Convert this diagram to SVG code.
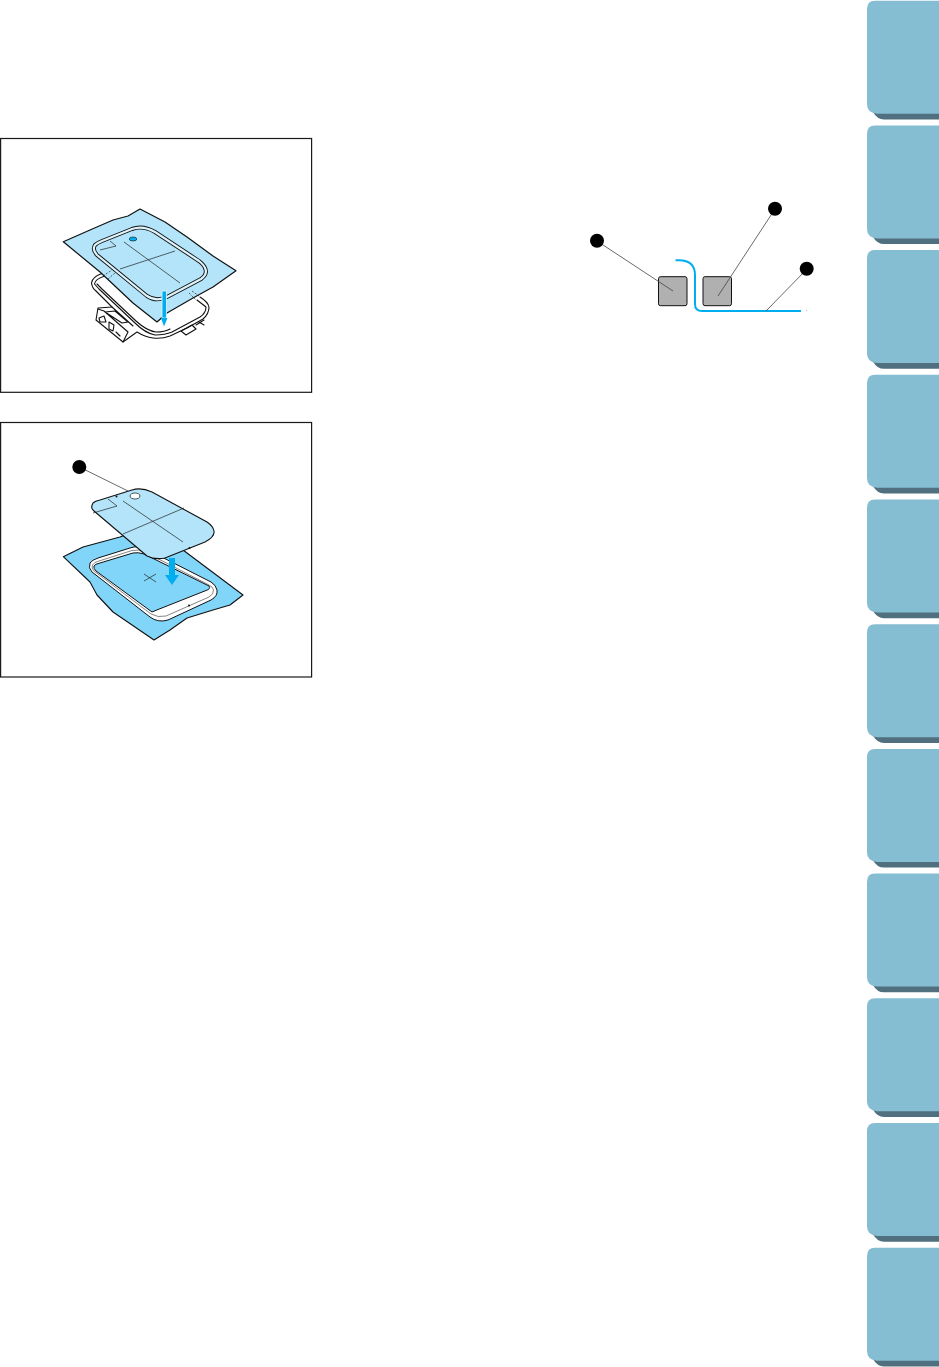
<svg xmlns="http://www.w3.org/2000/svg" xmlns:xlink="http://www.w3.org/1999/xlink" width="939" height="1367" viewBox="0 0 939 1367">
<style>
.frame{fill:#fff;stroke:#1a1a1a;stroke-width:1.2}
.ink{fill:none;stroke:#111;stroke-width:1.100;stroke-linejoin:round;stroke-linecap:round}
.thin{fill:none;stroke:#222;stroke-width:.7}
.leader{fill:none;stroke:#444;stroke-width:.8}
.dot{fill:#000}
.sq{fill:#b0b0b0;stroke:#111;stroke-width:1}
.wire{fill:none;stroke:#00aeef;stroke-width:2}
</style>
<defs>
<g id="tab">
<path d="M873 100H939V119.4H884Q877 119.4 873 112Z" fill="#50707f"/>
<path d="M875 .7H939V113.7H877Q867 113 867 104V9Q867 .7 875 .7Z" fill="#85bdd3"/>
</g>
<path id="hoop1" d="M95 245Q92 250 97 255L147 296Q156 302 167 297L201 279Q208 274 205 268Q204 265 199 261L155 232Q143 225 132 229L102 241Q97 243 95 245Z"/>
</defs>
<g id="tabs">
<use xlink:href="#tab" href="#tab"/>
<use href="#tab" y="124.7"/>
<use href="#tab" y="249.4"/>
<use href="#tab" y="374.1"/>
<use href="#tab" y="498.8"/>
<use href="#tab" y="623.5"/>
<use href="#tab" y="748.2"/>
<use href="#tab" y="872.9"/>
<use href="#tab" y="997.6"/>
<use href="#tab" y="1122.3"/>
<use href="#tab" y="1247"/>
</g>
<g id="figure1">
<rect class="frame" x=".6" y="138.5" width="311" height="253.8"/>
<path class="ink" d="M103 273Q92 277 91.500 283Q92 288 96 291L112 307L98 308L96 320L123 342L137 332Q145 337 153 338Q162 339 170 336L187 328L203 319Q209 314 209 307Q208 302 200 297"/>
<path class="ink" d="M105 276Q95 279 94.500 284L99 289L135 323Q145 333 155 335Q165 335 172 332L200 317Q206 313 206 307L197 300"/>
<path class="ink" d="M97 284L102 289L136 321Q147 331 156 332Q165 332 170 329"/>
<path class="ink" d="M98 309L104 311L128 332L123 342M112 307L133 326M105 312L115 311L128 322L122 323ZM99 318L104 316L106 322L100 322ZM109 322L114 325L113 331L109 329ZM116 332L120 336M181 331L186 335L196 329L192 325ZM196 325L204 320M199 322L204 325"/>
<path d="M63.300 241.700L90 230L113 220L128 216L140 209L165 222L187 237L213 256L236 270.700L213 287L193 298L167 313L157 322L133 303L100 272Z" fill="#b3e4f9" stroke="#111" stroke-width="1.200" stroke-linejoin="round"/>
<path class="thin" stroke-dasharray="2 1.500" d="M103 276L112 270M108 279L115 273M189 293L196 300M192 291L199 296"/>
<use href="#hoop1" fill="none" stroke="#111" stroke-width="4"/>
<use href="#hoop1" fill="none" stroke="#dff3fb" stroke-width="2.200"/>
<path class="thin" d="M100 250L116 246L110 241M124 242L180 283M120 269L175 251"/>
<ellipse cx="133" cy="239" rx="3.800" ry="2" fill="#00aeef" stroke="#111" stroke-width=".6"/>
<rect x="162" y="291" width="4.500" height="27" fill="#00aeef" stroke="#e8f8ff" stroke-width=".8"/>
<path d="M161 318H167.500L164 326.500Z" fill="#00aeef"/>
</g>
<g id="figure2">
<rect class="frame" x=".6" y="422.500" width="311" height="254.500"/>
<path d="M63.300 556.700L83 547L120 537L150 525L187 553L243 595L230 605L213 610L187 618L170 630L154 640L113 612L97 595L90 582Z" fill="#80d5f9" stroke="#111" stroke-width="1.100" stroke-linejoin="round"/>
<path d="M90 563Q88 568 92 572L150 617Q158 623 168 620L211 600Q218 596 217 590Q216 585 211 582L146 549Q138 545 130 548L98 558Q92 560 90 563Z" fill="#fff" stroke="#111" stroke-width="1"/>
<path d="M92.500 565Q91 568 94 571L151 614Q158 618 166 616L209 597Q214 594 213.500 590Q213 587 209 585L145 552Q138 549 132 550.500L99 561Q94 562 92.500 565Z" fill="none" stroke="#333" stroke-width=".6"/>
<path d="M94 566Q93 568 96 571L152 612L158 609.500L206 590.500Q211 589 209 586L144 554Q138 552 133 553L100 563Q95 564 94 566Z" fill="#80d5f9" stroke="#111" stroke-width="1"/>
<circle cx="189" cy="605.500" r="1" fill="#111"/>
<path class="thin" d="M144 574L156 582M144 581L156 574"/>
<path d="M169 558H175V575H179L172 585L165 575H169Z" fill="#00aeef"/>
<path d="M93 503Q90 508 94 511L147 556Q155 560 165 558L205 542Q215 537 214 531Q213 526 207 522L152 492Q141 487 132 490L100 500Q95 501 93 503Z" fill="#b3e4f9" stroke="#111" stroke-width="1.100"/>
<path class="thin" d="M93 513L117 506L108 499M123 501L183 542M123 534L184 508"/>
<ellipse cx="135" cy="496" rx="5" ry="3" fill="#fff" stroke="#111" stroke-width=".7"/>
<circle cx="116.500" cy="496.500" r="1" fill="#111"/>
<circle cx="189.500" cy="548" r="1" fill="#111"/>
<path class="leader" d="M79.300 467L128 491"/>
<circle class="dot" cx="79.300" cy="467" r="7"/>
</g>
<g id="figure3">
<rect class="sq" x="658.500" y="276.700" width="28.500" height="29" rx="2"/>
<rect class="sq" x="703" y="276.700" width="28.500" height="29" rx="2"/>
<path class="wire" d="M675.500 260.300H679Q695 260.500 695 275V304Q695 311 702 311H801"/>
<path d="M806 309.500h1v1.500h-1z" fill="#9fdcf5"/>
<g class="connectors">
<path class="leader" d="M597 241L673 291"/>
<path class="leader" d="M775 209L718 296"/>
<path class="leader" d="M807 269L766 311"/>
</g>
<circle class="dot" cx="597" cy="240.700" r="7"/>
<circle class="dot" cx="775" cy="208.700" r="7"/>
<circle class="dot" cx="806.700" cy="268.700" r="7"/>
</g>
</svg>
